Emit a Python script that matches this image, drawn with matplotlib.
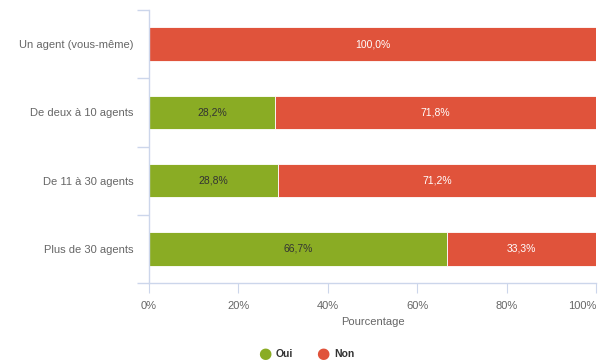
import numpy as np
import matplotlib.pyplot as plt

plt.rcParams['font.family'] = ['Liberation Sans', 'DejaVu Sans']

categories = ['Un agent (vous-même)', 'De deux à 10 agents', 'De 11 à 30 agents', 'Plus de 30 agents']
oui = [0.0, 28.2, 28.8, 66.7]
non = [100.0, 71.8, 71.2, 33.3]
ticks = [0, 20, 40, 60, 80, 100]

green = '#8aac24'
red = '#e0533b'
axis_col = '#ccd6eb'

fig = plt.figure(figsize=(5.98, 3.62), dpi=100)
ax = fig.add_axes([149 / 598, 1 - 283 / 362, 447 / 598, 273 / 362])

y = np.arange(len(categories))
h = 0.49
ax.barh(y, oui, height=h, color=green, edgecolor='white', linewidth=0.6)
ax.barh(y, non, left=oui, height=h, color=red, edgecolor='white', linewidth=0.6)

for i in range(len(categories)):
    if oui[i] > 0:
        ax.text(oui[i] / 2, y[i], f'{oui[i]:.1f}%'.replace('.', ','), ha='center', va='center',
                fontsize=7.5, color='#333333')
    ax.text(oui[i] + non[i] / 2, y[i], f'{non[i]:.1f}%'.replace('.', ','), ha='center', va='center',
            fontsize=7.5, color='white')

ax.set_xlim(0, 100)
ax.set_ylim(len(categories) - 0.5, -0.5)
ax.set_xticks(ticks)
ax.set_xticklabels([f'{t}%' for t in ticks], fontsize=8, color='#666666')
ax.get_xticklabels()[-1].set_ha('right')
ax.set_yticks(y)
ax.set_yticklabels(categories, fontsize=8, color='#666666')
ax.tick_params(axis='y', length=0, pad=11)
ax.tick_params(axis='x', length=7, color=axis_col, pad=6)
# category separators on the left of the axis
ax.set_yticks(np.arange(-0.5, len(categories)), minor=True)
ax.tick_params(axis='y', which='minor', length=9, color=axis_col, width=1)
ax.set_xlabel('Pourcentage', fontsize=8, color='#666666', labelpad=4)

for s in ['top', 'right']:
    ax.spines[s].set_visible(False)
for s in ['left', 'bottom']:
    ax.spines[s].set_color(axis_col)
    ax.spines[s].set_linewidth(1)

# legend
fig.text(265 / 598, 1 - 354 / 362, '●', color=green, fontsize=11, ha='center', va='center',
         family='DejaVu Sans')
fig.text(276 / 598, 1 - 354 / 362, 'Oui', fontsize=7.5, fontweight='bold', color='#333333', va='center')
fig.text(323 / 598, 1 - 354 / 362, '●', color=red, fontsize=11, ha='center', va='center',
         family='DejaVu Sans')
fig.text(334 / 598, 1 - 354 / 362, 'Non', fontsize=7.5, fontweight='bold', color='#333333', va='center')

fig.savefig('out.png', dpi=100)
